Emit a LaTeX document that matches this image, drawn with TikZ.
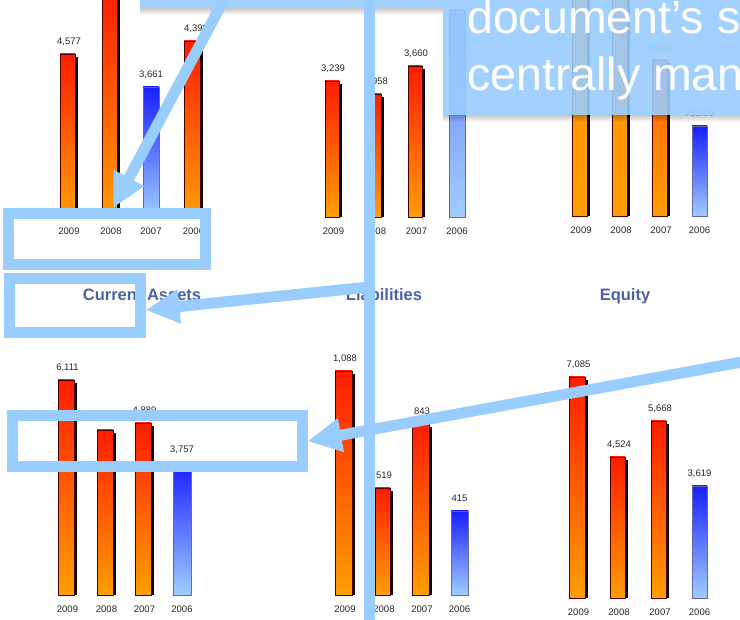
\documentclass[tikz,border=0pt]{standalone}
\usepackage{fontspec}
\setmainfont{Liberation Sans}
\usetikzlibrary{arrows.meta,calc}

\definecolor{callblue}{RGB}{153,204,255}
\definecolor{hotred}{RGB}{255,28,0}
\definecolor{hotorange}{RGB}{255,158,0}
\definecolor{amber}{RGB}{255,145,0}
\definecolor{amberred}{RGB}{255,95,0}
\definecolor{coolblue}{RGB}{25,30,255}
\definecolor{coolpale}{RGB}{160,205,255}
\definecolor{titleblue}{RGB}{76,98,166}

\tikzset{
  hotfill/.style={top color=hotred, bottom color=hotorange, draw=black!70!red, line width=0.7pt},
  amberfill/.style={top color=amber, bottom color=hotorange, draw=black!70!red, line width=0.7pt},
  amberredfill/.style={top color=amberred, bottom color=hotorange, draw=black!70!red, line width=0.7pt},
  coolfill/.style={top color=coolblue, bottom color=coolpale, draw=black!55!blue!60, line width=0.7pt},
  palefill/.style={top color=coolblue!45!coolpale, bottom color=coolpale, draw=black!55!blue!60, line width=0.7pt},
  barshadow/.style={fill=black},
  yearlbl/.style={font=\fontsize{9.5}{11}\selectfont, text=black!85, inner sep=0},
  vallbl/.style={font=\fontsize{9.5}{11}\selectfont, text=black!85, inner sep=0},
  greylbl/.style={font=\fontsize{9.5}{11}\selectfont, text=black!35, inner sep=0},
  charttitle/.style={font=\fontsize{16.5}{18}\selectfont\bfseries, text=titleblue, inner sep=0, anchor=base},
  callout/.style={draw=callblue, line width=11pt, inner sep=0},
  pointer/.style={draw=callblue, line width=11pt, -{Triangle[length=34pt,width=32pt]}},
  rail/.style={draw=callblue, line width=11pt},
  captext/.style={font=\fontsize{46.5}{50}\selectfont, text=white, inner sep=0, anchor=base west},
}

% bar with a dark drop shadow: [fill style]{id}{left}{right incl. shadow}{top}{base}{year}
\newcommand\hotbar[7][hotfill]{%
  \fill[barshadow] (#3+3,#5+3) rectangle (#4,#6);
  \shade[#1] (#3,#5) rectangle (#4-3,#6);
  \node[yearlbl] (#2-yr) at ({(#3+#4)/2},#6+14) {#7};
}
% bar without shadow: [fill style]{id}{left}{right}{top}{base}{year}
\newcommand\coolbar[7][coolfill]{%
  \shade[#1] (#3,#5) rectangle (#4,#6);
  \node[yearlbl] (#2-yr) at ({(#3+#4)/2},#6+14) {#7};
}
% value above a bar: [style]{id}{centre x}{bar top}{text}
\newcommand\barval[5][vallbl]{%
  \node[#1] (#2-val) at (#3,#4-12.5) {#5};
}

\begin{document}
\begin{tikzpicture}[x=1pt,y=-1pt]
\useasboundingbox (0,0) rectangle (740,620);
\clip (0,0) rectangle (740,620);
\fill[white] (0,0) rectangle (740,620);

% ---- upper row of charts ----
\hotbar{a09}{60}{78}{54}{217}{2009}
\hotbar{a08}{102}{120}{-10}{217}{2008}
\coolbar{a07}{143}{159}{87}{217}{2007}
\hotbar{a06}{184}{203}{41}{217}{2006}
\barval{a09}{69}{54}{4,577}
\barval{a07}{151}{87}{3,661}
\barval{a06}{196}{41}{4,398}

\hotbar{b09}{325}{342}{81}{217}{2009}
\hotbar{b08}{367}{384}{94}{217}{2008}
\hotbar{b07}{408}{425}{66}{217}{2007}
\coolbar[palefill]{b06}{449}{465}{10}{217}{2006}
\barval{b09}{333}{81}{3,239}
\barval{b08}{376}{94}{2,958}
\barval{b07}{416}{66}{3,660}

\hotbar[amberfill]{c09}{572}{590}{-10}{216}{2009}
\hotbar[amberfill]{c08}{612}{630}{-10}{216}{2008}
\hotbar[amberredfill]{c07}{652}{670}{60}{216}{2007}
\coolbar{c06}{692}{707}{126}{216}{2006}
\barval[greylbl]{c07}{661}{60}{805.00}
\barval[greylbl]{c06}{699.5}{126}{753.00}

% ---- chart titles ----
\node[charttitle] (t-assets) at (142,301) {Current Assets};
\node[charttitle] (t-liab) at (384,301) {Liabilities};
\node[charttitle] (t-equity) at (625,301) {Equity};

% ---- lower row of charts ----
\hotbar{d09}{58}{77}{380}{595}{2009}
\hotbar{d08}{97}{116}{430}{595}{2008}
\hotbar{d07}{135}{154}{423}{595}{2007}
\coolbar{d06}{173}{191}{462}{595}{2006}
\barval{d09}{67.5}{380}{6,111}
\barval{d07}{144.5}{423}{4,889}
\barval{d06}{182}{462}{3,757}

\hotbar{e09}{335}{355}{371}{595}{2009}
\hotbar{e08}{375}{393}{488}{595}{2008}
\hotbar{e07}{412}{432}{424}{595}{2007}
\coolbar{e06}{451}{468}{511}{595}{2006}
\barval{e09}{345}{371}{1,088}
\barval{e08}{384}{488}{519}
\barval{e07}{422}{424}{843}
\barval{e06}{459.5}{511}{415}

\hotbar{f09}{569}{588}{377}{598}{2009}
\hotbar{f08}{610}{628}{457}{598}{2008}
\hotbar{f07}{651}{669}{421}{598}{2007}
\coolbar{f06}{692}{707}{486}{598}{2006}
\barval{f09}{578.5}{377}{7,085}
\barval{f08}{619}{457}{4,524}
\barval{f07}{660}{421}{5,668}
\barval{f06}{699.5}{486}{3,619}

% ---- caption panel with soft shadow ----
\foreach \k in {0,...,6}{
  \pgfmathsetmacro\op{0.22*(1-\k/7)}
  \fill[black,opacity=\op] (140,8+\k) rectangle (443,9+\k);
  \fill[black,opacity=\op] (443,115+\k) rectangle (760,116+\k);
}
\fill[callblue,opacity=0.9] (140,-20) -- (760,-20) -- (760,115) -- (443,115) -- (443,8) -- (140,8) -- cycle;
\node[captext] (cap1) at (467,34) {document’s s};
\node[captext] (cap2) at (467,91) {centrally man};

% ---- vertical rule ----
\coordinate (railtop) at (369.5,-10);
\coordinate (railbot) at (369.5,630);
\draw[rail] (railtop) -- (railbot);

% ---- highlight frames ----
\node[callout, minimum width=197pt, minimum height=51pt] (boxA) at (107,239) {};
\node[callout, minimum width=130.5pt, minimum height=54pt] (boxB) at (74.75,305.5) {};
\node[callout, minimum width=289.5pt, minimum height=51.5pt] (boxC) at (157.25,441.25) {};

% ---- pointers ----
\coordinate (p1from) at (227,-6);
\coordinate (p2from) at (369.5,287);
\coordinate (p3from) at (760,358.7);
\draw[pointer] (p1from) -- ($(boxA.north)+(6,0)$);
\draw[pointer] (p2from) -- ($(boxB.east)+(0,4.5)$);
\draw[pointer] (p3from) -- (boxC.east);
\end{tikzpicture}
\end{document}
